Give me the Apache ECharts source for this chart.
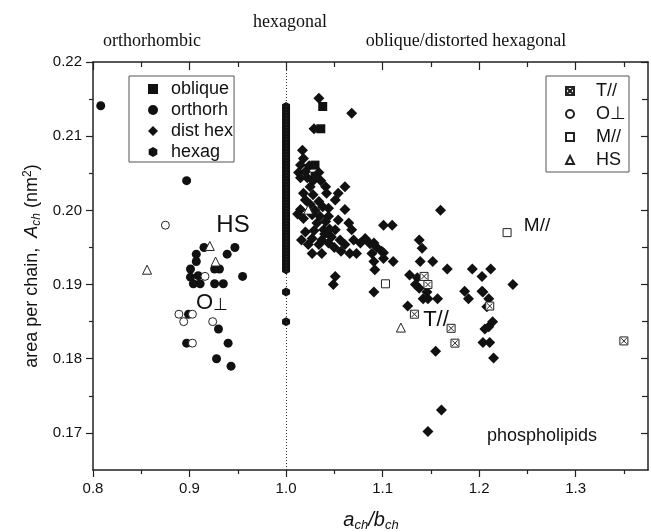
<!DOCTYPE html>
<html><head><meta charset="utf-8">
<script src="https://cdn.jsdelivr.net/npm/echarts@6/dist/echarts.min.js"></script>
<style>html,body{margin:0;padding:0;background:#fff}#c{width:651px;height:532px}</style>
</head><body><div id="c"></div>
<script>
// ---- tick values ----
const xMajorTicks = [0.8, 0.9, 1.0, 1.1, 1.2, 1.3];
const xMinorTicks = [0.85, 0.95, 1.05, 1.15, 1.25, 1.35];
const yMajorTicks = [0.17, 0.18, 0.19, 0.20, 0.21, 0.22];
const yMinorTicks = [0.175, 0.185, 0.195, 0.205, 0.215];

// ---- series data [a_ch/b_ch, A_ch] ----
const obliqueData = [[1.038,0.2140],[1.036,0.2110],[1.030,0.2061],[1.030,0.2046]];
const orthorhData = [[0.808,0.2141],[0.897,0.2040],[0.915,0.1950],[0.907,0.1941],[0.907,0.1931],[0.901,0.1921],
  [0.901,0.1910],[0.904,0.1901],[0.911,0.1901],[0.909,0.1912],[0.926,0.1921],[0.931,0.1921],[0.926,0.1901],
  [0.935,0.1901],[0.939,0.1941],[0.947,0.1950],[0.955,0.1911],[0.899,0.1860],[0.897,0.1821],[0.930,0.1840],
  [0.940,0.1821],[0.928,0.1800],[0.943,0.1790]];
const distHexData = [[1.034,0.2151],[1.068,0.2131],[1.029,0.2110],
  [1.017,0.2081],[1.018,0.2070],[1.015,0.2061],[1.024,0.2060],[1.013,0.2051],[1.020,0.2052],[1.034,0.2051],
  [1.015,0.2044],[1.022,0.2044],[1.028,0.2040],[1.036,0.2040],[1.025,0.2032],[1.041,0.2032],[1.061,0.2032],
  [1.018,0.2023],[1.028,0.2021],[1.042,0.2023],[1.054,0.2023],
  [1.020,0.2014],[1.034,0.2012],[1.051,0.2014],[1.025,0.2008],[1.038,0.2005],
  [1.015,0.2001],[1.030,0.2000],[1.044,0.2003],[1.061,0.2001],[1.012,0.1995],
  [1.018,0.1989],[1.027,0.1994],[1.035,0.1992],[1.044,0.1992],[1.054,0.1987],[1.065,0.1983],[1.032,0.1983],[1.041,0.1985],
  [1.101,0.1980],[1.110,0.1980],
  [1.020,0.1971],[1.029,0.1973],[1.039,0.1974],[1.051,0.1974],[1.068,0.1974],[1.045,0.1975],[1.040,0.1968],
  [1.016,0.1960],[1.027,0.1962],[1.037,0.1960],[1.047,0.1964],[1.056,0.1960],[1.070,0.1960],[1.082,0.1962],
  [1.023,0.1954],[1.034,0.1954],[1.044,0.1956],[1.050,0.1950],[1.061,0.1954],[1.077,0.1956],[1.091,0.1956],[1.087,0.1955],[1.094,0.1950],
  [1.027,0.1942],[1.037,0.1942],[1.057,0.1945],[1.066,0.1942],[1.073,0.1942],[1.089,0.1942],[1.099,0.1945],[1.101,0.1943],
  [1.091,0.1931],[1.101,0.1935],[1.111,0.1931],[1.092,0.1920],
  [1.051,0.1911],[1.049,0.1900],[1.091,0.1890],
  [1.138,0.1960],[1.141,0.1949],[1.139,0.1931],[1.152,0.1931],[1.160,0.2000],
  [1.167,0.1921],[1.193,0.1921],[1.212,0.1921],[1.203,0.1911],[1.235,0.1900],
  [1.128,0.1913],[1.136,0.1909],[1.134,0.1900],[1.138,0.1895],[1.146,0.1890],
  [1.142,0.1881],[1.147,0.1881],[1.157,0.1881],[1.126,0.1871],
  [1.155,0.1810],
  [1.185,0.1891],[1.189,0.1881],[1.203,0.1891],[1.204,0.1890],[1.210,0.1881],[1.208,0.1870],
  [1.214,0.1850],[1.210,0.1843],[1.206,0.1840],[1.204,0.1822],[1.211,0.1822],[1.215,0.1801],
  [1.161,0.1731],[1.147,0.1702]];
const hexagData = [[1.0,0.185],[1.0,0.189],
  [1.0,0.1920],[1.0,0.1925],[1.0,0.1930],[1.0,0.1935],[1.0,0.1940],[1.0,0.1945],[1.0,0.1950],[1.0,0.1955],
  [1.0,0.1960],[1.0,0.1965],[1.0,0.1970],[1.0,0.1975],[1.0,0.1980],[1.0,0.1985],[1.0,0.1990],[1.0,0.1995],
  [1.0,0.2000],[1.0,0.2005],[1.0,0.2010],[1.0,0.2015],[1.0,0.2020],[1.0,0.2025],[1.0,0.2030],[1.0,0.2035],
  [1.0,0.2040],[1.0,0.2045],[1.0,0.2050],[1.0,0.2055],[1.0,0.2060],[1.0,0.2065],[1.0,0.2070],[1.0,0.2075],
  [1.0,0.2080],[1.0,0.2085],[1.0,0.2090],[1.0,0.2095],[1.0,0.2100],[1.0,0.2105],[1.0,0.2110],[1.0,0.2115],
  [1.0,0.2120],[1.0,0.2125],[1.0,0.2130],[1.0,0.2135],[1.0,0.2140]];
const tParData = [[1.143,0.1911],[1.147,0.1900],[1.133,0.1860],[1.171,0.1841],[1.175,0.1821],[1.211,0.1871],[1.350,0.1824]];
const oPerpData = [[0.875,0.1980],[0.916,0.1911],[0.889,0.1860],[0.894,0.1850],[0.903,0.1860],[0.924,0.1850],[0.903,0.1821]];
const mParData = [[1.229,0.1970],[1.103,0.1901]];
const hsData = [[0.856,0.1920],[0.921,0.1952],[0.927,0.1931],[1.023,0.2001],[1.119,0.1842]];

const X_MIN = 0.8, X_MAX = 1.375, Y_MIN = 0.165, Y_MAX = 0.22;
const INK = '#111';
const SANS = 'Liberation Sans';
const HEX = 'path://M0,0L8.66,5L8.66,15L0,20L-8.66,15L-8.66,5Z';
const BOXX = 'path://M0,0H10V10H0Z M1.5,1.5L8.5,8.5 M8.5,1.5L1.5,8.5';

function filled(name, data, symbol, size) {
  return {type:'scatter', name, data, symbol, symbolSize:size, itemStyle:{color:INK, opacity:1}, emphasis:{disabled:true}};
}
function open(name, data, symbol, size) {
  return {type:'scatter', name, data, symbol, symbolSize:size,
    itemStyle:{color:'#fff', borderColor:'#222', borderWidth:1, opacity:1}, emphasis:{disabled:true}};
}
function xAx(pos, ticks, len, inside, withLine, withLabels) {
  return {type:'value', position:pos, min:X_MIN, max:X_MAX, gridIndex:0,
    axisLine:{show:withLine, lineStyle:{color:'#222', width:1.5}},
    axisTick:{show:true, inside, length:len, customValues:ticks, lineStyle:{color:'#222', width:1.2}},
    axisLabel:{show:withLabels, customValues:ticks, margin:11, fontSize:15, fontFamily:SANS, color:INK,
      formatter:v=>v.toFixed(1)},
    splitLine:{show:false}};
}
function yAx(pos, ticks, len, inside, withLine, withLabels) {
  return {type:'value', position:pos, min:Y_MIN, max:Y_MAX, gridIndex:0,
    axisLine:{show:withLine, lineStyle:{color:'#222', width:1.5}},
    axisTick:{show:true, inside, length:len, customValues:ticks, lineStyle:{color:'#222', width:1.2}},
    axisLabel:{show:withLabels, customValues:ticks, margin:11, fontSize:15, fontFamily:SANS, color:INK,
      formatter:v=>v.toFixed(2)},
    splitLine:{show:false}};
}

const hexSeries = filled('hexag', hexagData, HEX, [8,9]);
hexSeries.markLine = {silent:true, symbol:'none', label:{show:false}, animation:false,
  lineStyle:{type:[1,2], color:'#333', width:1, opacity:1}, emphasis:{disabled:true}, data:[{xAxis:1.0}]};

const chart = echarts.init(document.getElementById('c'));
chart.setOption({
  animation:false,
  grid:{left:93, right:3, top:62, bottom:62},
  xAxis:[xAx('bottom', xMajorTicks, 7, false, true, true), xAx('bottom', xMinorTicks, 4, false, false, false),
         xAx('top', xMajorTicks, 8, true, true, false), xAx('top', xMinorTicks, 5, true, false, false)],
  yAxis:[yAx('left', yMajorTicks, 7, false, true, true), yAx('left', yMinorTicks, 4, false, false, false),
         yAx('right', yMajorTicks, 7, true, true, false), yAx('right', yMinorTicks, 6, true, false, false)],
  legend:[
    {data:['oblique','orthorh','dist hex','hexag'], orient:'vertical', left:129, top:76,
     itemWidth:10, itemHeight:10, itemGap:3, padding:[4,1,1,19], selectedMode:false,
     borderColor:'#555', borderWidth:1, textStyle:{fontSize:18, fontFamily:SANS, color:INK, padding:[0,0,0,8]}},
    {data:['T//','O⊥','M//','HS'], orient:'vertical', left:546, top:76,
     itemWidth:8, itemHeight:8, itemGap:5, padding:[6,3,3,19], selectedMode:false,
     borderColor:'#555', borderWidth:1, textStyle:{fontSize:18, fontFamily:SANS, color:INK, padding:[0,0,0,17]}}
  ],
  series:[
    hexSeries,
    filled('dist hex', distHexData, 'diamond', 11),
    filled('oblique', obliqueData, 'rect', 9),
    filled('orthorh', orthorhData, 'circle', 9),
    open('T//', tParData, BOXX, 8),
    open('O⊥', oPerpData, 'circle', 8),
    open('M//', mParData, 'rect', 8),
    open('HS', hsData, 'triangle', 9)
  ],
  graphic:[
    {type:'text', x:152, y:41.5, style:{text:'orthorhombic', fontSize:18, fontFamily:'Liberation Serif', fill:INK, align:'center', verticalAlign:'middle'}},
    {type:'text', x:290, y:22, style:{text:'hexagonal', fontSize:18, fontFamily:'Liberation Serif', fill:INK, align:'center', verticalAlign:'middle'}},
    {type:'text', x:466, y:41.5, style:{text:'oblique/distorted hexagonal', fontSize:18, fontFamily:'Liberation Serif', fill:INK, align:'center', verticalAlign:'middle'}},
    {type:'text', x:233, y:225, style:{text:'HS', fontSize:24, fontFamily:SANS, fill:INK, align:'center', verticalAlign:'middle'}},
    {type:'text', x:212, y:303, style:{text:'{a|O}{b|⊥}', align:'center', verticalAlign:'middle',
      rich:{a:{fontSize:22, fontFamily:SANS, fill:INK}, b:{fontSize:17, fontFamily:SANS, fill:INK, padding:[4,0,0,0]}}}},
    {type:'text', x:436, y:320, style:{text:'T//', fontSize:22, fontFamily:SANS, fill:INK, align:'center', verticalAlign:'middle'}},
    {type:'text', x:537, y:226, style:{text:'M//', fontSize:19, fontFamily:SANS, fill:INK, align:'center', verticalAlign:'middle'}},
    {type:'text', x:542, y:436, style:{text:'phospholipids', fontSize:18, fontFamily:SANS, fill:INK, align:'center', verticalAlign:'middle'}},
    {type:'text', x:371, y:520, style:{text:'{i|a}{s|ch}{i|/b}{s|ch}', align:'center', verticalAlign:'middle',
      rich:{i:{fontSize:20, fontStyle:'italic', fontFamily:SANS, fill:INK}, s:{fontSize:13, fontStyle:'italic', fontFamily:SANS, fill:INK, padding:[10,0,0,0]}}}},
    {type:'text', x:32, y:266, rotation:Math.PI/2, style:{text:'{n|area per chain,  }{i|A}{s|ch}{n| (nm}{p|2}{n|)}', align:'center', verticalAlign:'middle',
      rich:{n:{fontSize:18, fontFamily:SANS, fill:INK}, i:{fontSize:18, fontStyle:'italic', fontFamily:SANS, fill:INK},
        s:{fontSize:12, fontStyle:'italic', fontFamily:SANS, fill:INK, padding:[9,0,0,0]},
        p:{fontSize:12, fontFamily:SANS, fill:INK, padding:[0,0,9,0]}}}}
  ]
});
</script></body></html>
